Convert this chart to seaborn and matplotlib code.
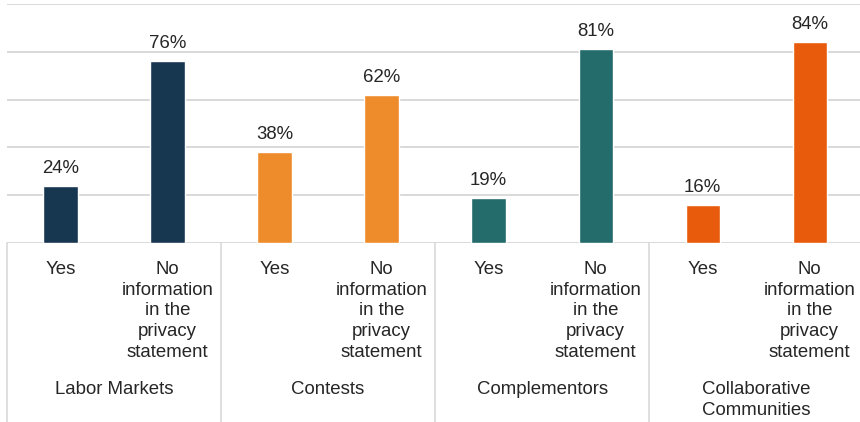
import matplotlib
matplotlib.use("Agg")
import matplotlib.pyplot as plt
import matplotlib.transforms as mtransforms
import pandas as pd
import seaborn as sns

# Platform types and the share of platforms per answer
groups = ["Labor Markets", "Contests", "Complementors", "Collaborative\nCommunities"]
answers = ["Yes", "No\ninformation\nin the\nprivacy\nstatement"]
yes_share = [24, 38, 19, 16]
no_info_share = [76, 62, 81, 84]
group_colors = ["#173650", "#EE8C2B", "#246B6B", "#E95B0C"]
y_ticks = [0, 20, 40, 60, 80, 100]

rows = []
for g, y, n in zip(groups, yes_share, no_info_share):
    rows.append({"slot": f"{g}|{answers[0]}", "group": g, "answer": answers[0], "share": y})
    rows.append({"slot": f"{g}|{answers[1]}", "group": g, "answer": answers[1], "share": n})
df = pd.DataFrame(rows)

sns.set_theme(style="white")
plt.rcParams["font.family"] = ["Liberation Sans", "DejaVu Sans"]
text_color = "#262626"
grid_color = "#D9D9D9"

fig = plt.figure(figsize=(8.6, 4.22), dpi=100)
ax = fig.add_axes([7 / 860, (422 - 243) / 422, 1 - 7 / 860, 239 / 422])

sns.barplot(
    data=df, x="slot", y="share", hue="group",
    palette=dict(zip(groups, group_colors)),
    dodge=False, width=0.32, saturation=1, legend=False, ax=ax,
)

for cont in ax.containers:
    ax.bar_label(cont, fmt="{:.0f}%", padding=6.5, fontsize=13.4, color=text_color)

ax.set_ylim(0, 100)
ax.set_xlim(-0.5, 7.47)
ax.set_yticks(y_ticks)
ax.set_yticklabels([])
ax.tick_params(axis="y", length=0)
ax.yaxis.grid(True, color=grid_color, linewidth=1.4)
ax.set_axisbelow(True)
for s in ax.spines.values():
    s.set_visible(False)

ax.set_xticks(range(len(df)))
ax.set_xticklabels(df["answer"], fontsize=13.4, color=text_color,
                   linespacing=1.28, va="top")
ax.tick_params(axis="x", length=0, pad=13)
ax.set_xlabel("")
ax.set_ylabel("")

trans = mtransforms.blended_transform_factory(ax.transData, ax.transAxes)
bottom_y = -(422 - 243) / 239
for i in range(len(groups) + 1):
    xb = 2 * i - 0.5
    ax.plot([xb, xb], [0, bottom_y], transform=trans, color=grid_color,
            linewidth=1.2, clip_on=False)

for i, g in enumerate(groups):
    ax.text(2 * i + 0.5, -138 / 239, g, transform=trans, ha="center", va="top",
            fontsize=13.4, color=text_color, linespacing=1.28)

fig.savefig("out.png", dpi=100)
